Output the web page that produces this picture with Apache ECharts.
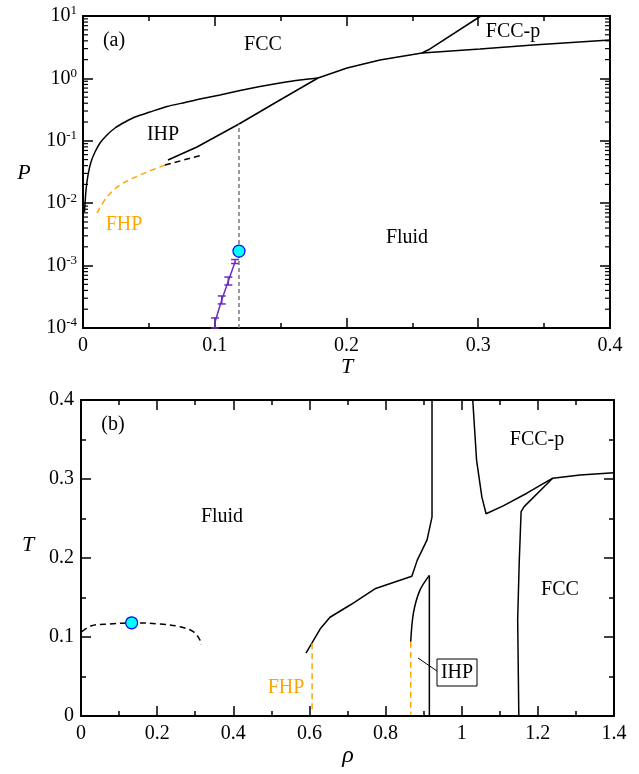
<!DOCTYPE html>
<html lang="en">
<head>
<meta charset="UTF-8">
<title>Phase diagram</title>
<script src="https://cdn.jsdelivr.net/npm/echarts@6/dist/echarts.min.js"></script>
<style>
    html, body { margin: 0; padding: 0; background: #fff; }
    #main { width: 639px; height: 774px; }
</style>
</head>
<body>
<div id="main"></div>
<script>
// ---- panel (a): P vs T ----
var fccIhpT = [0.00114, 0.00228, 0.0038, 0.00607, 0.00911, 0.0129, 0.0182, 0.0243, 0.0319, 0.0395, 0.0509, 0.0638, 0.0774, 0.0888, 0.1040, 0.1192, 0.1343, 0.1495, 0.1647, 0.1784];
var fccIhpP = [0.00723, 0.01627, 0.0283, 0.0457, 0.0661, 0.0922, 0.1238, 0.1604, 0.2001, 0.2406, 0.2893, 0.3545, 0.411, 0.4676, 0.542, 0.64, 0.741, 0.843, 0.9428, 1.015];

var ihpFluidT = [0.0645, 0.0865, 0.1184, 0.1495, 0.1784];
var ihpFluidP = [0.0492, 0.0796, 0.186, 0.451, 1.015];

var fluidFccT = [0.1784, 0.2004, 0.2254, 0.2573, 0.3013, 0.3416, 0.4];
var fluidFccP = [1.015, 1.468, 1.97, 2.55, 2.96, 3.43, 4.12];

var fccFccpT = [0.2573, 0.2634, 0.302];
var fccFccpP = [2.55, 2.96, 10];

var fhpT = [0.0106, 0.0182, 0.0281, 0.0433, 0.0622];
var fhpP = [0.00697, 0.01256, 0.0196, 0.0283, 0.0409];

var metaT = [0.0622, 0.0903];
var metaP = [0.0409, 0.0591];

var critT = 0.1184;
var critP = 0.00171;
var critLineP = [0.0001, 0.186];

var gasT = [0.1002, 0.1053, 0.1103, 0.1154];
var gasP = [0.000125, 0.000281, 0.000566, 0.00114];
var gasLo = [0.0001, 0.000243, 0.000489, 0.00108];
var gasHi = [0.000145, 0.000326, 0.000656, 0.00125];

// ---- panel (b): T vs rho ----
var fluidRho = [0.591, 0.628, 0.654, 0.707, 0.772, 0.869, 0.883, 0.909, 0.922, 0.922];
var fluidTb = [0.0797, 0.110, 0.125, 0.1405, 0.161, 0.177, 0.197, 0.223, 0.252, 0.40];

var ihpRho = [0.866, 0.873, 0.890, 0.915];
var ihpTb = [0.094, 0.130, 0.159, 0.178];
var ihpWallRho = [0.915, 0.915];
var ihpWallT = [0.178, 0];

var fccpRho = [1.029, 1.039, 1.053, 1.064, 1.109, 1.171, 1.239, 1.311, 1.4];
var fccpTb = [0.40, 0.324, 0.277, 0.256, 0.266, 0.282, 0.301, 0.305, 0.308];

var fccRho = [1.150, 1.147, 1.151, 1.156, 1.164, 1.239];
var fccTb = [0, 0.1215, 0.194, 0.2586, 0.265, 0.301];

var coexRho = [0.002, 0.028, 0.076, 0.133, 0.2075, 0.26, 0.295, 0.3126, 0.315];
var coexTb = [0.1067, 0.1143, 0.1165, 0.118, 0.1165, 0.113, 0.1067, 0.0962, 0.09];

var fhpVertRho = [0.607, 0.607];
var fhpVertT = [0.092, 0.004];
var ihpVertRho = [0.866, 0.866];
var ihpVertT = [0.094, 0.002];

var critRho = 0.133;
var critTb = 0.118;

var logMinor = [];
for (var d = -4; d < 1; d++) {
    for (var k = 2; k <= 9; k++) logMinor.push(k * Math.pow(10, d));
}

function zip(xs, ys) {
    return xs.map(function (x, i) { return [x, ys[i]]; });
}

var serif = '"Liberation Serif", "DejaVu Serif", serif';
var orange = '#ffa500';
var purple = '#6a2fc0';

function line(name, xs, ys, gi, color, type, width, smooth) {
    return {
        name: name, type: 'line', xAxisIndex: gi * 2, yAxisIndex: gi * 2,
        data: zip(xs, ys), symbol: 'none', silent: true, smooth: smooth || false,
        lineStyle: { color: color || '#000', width: width || 1.5, type: type || 'solid' }
    };
}

function xAx(gi, max, interval, pos, showLabel) {
    return {
        type: 'value', gridIndex: gi, min: 0, max: max, interval: interval, position: pos,
        axisLine: { show: true, onZero: false, lineStyle: { color: '#000', width: 2 } },
        axisTick: { show: true, inside: true, length: 10, lineStyle: { color: '#000', width: 1.5 } },
        minorTick: { show: true, splitNumber: 2, length: 5, lineStyle: { color: '#000', width: 1.5 } },
        axisLabel: { show: showLabel, fontFamily: serif, fontSize: 20, color: '#000', margin: 8 },
        splitLine: { show: false }
    };
}

function yLin(gi, pos, showLabel) {
    return {
        type: 'value', gridIndex: gi, min: 0, max: 0.4, interval: 0.1, position: pos,
        axisLine: { show: true, onZero: false, lineStyle: { color: '#000', width: 2 } },
        axisTick: { show: true, inside: true, length: 10, lineStyle: { color: '#000', width: 1.5 } },
        minorTick: { show: true, splitNumber: 2, length: 5, lineStyle: { color: '#000', width: 1.5 } },
        axisLabel: { show: showLabel, fontFamily: serif, fontSize: 20, color: '#000', margin: 7 },
        splitLine: { show: false }
    };
}

function yLog(pos, showLabel) {
    return {
        type: 'log', gridIndex: 0, min: 1e-4, max: 10, logBase: 10, position: pos,
        axisLine: { show: true, onZero: false, lineStyle: { color: '#000', width: 2 } },
        axisTick: { show: true, inside: true, length: 10, lineStyle: { color: '#000', width: 1.5 } },
        axisLabel: {
            show: showLabel, margin: 6, color: '#000',
            formatter: function (v) {
                var e = Math.round(Math.log10(v));
                return '{b|10}{s|' + e + '}';
            },
            rich: {
                b: { fontFamily: serif, fontSize: 20, color: '#000' },
                s: { fontFamily: serif, fontSize: 13, color: '#000', verticalAlign: 'top', padding: [0, 0, 10, 0] }
            }
        },
        splitLine: { show: false }
    };
}

var myChart = echarts.init(document.getElementById('main'));

var critStyle = { color: '#00ffff', borderColor: '#0000ff', borderWidth: 1.2, opacity: 1 };

var option = {
    animation: false,
    backgroundColor: '#fff',
    grid: [
        { left: 83, top: 16, width: 527, height: 312 },
        { left: 81, top: 400, width: 533, height: 316 }
    ],
    xAxis: [
        xAx(0, 0.4, 0.1, 'bottom', true),
        xAx(0, 0.4, 0.1, 'top', false),
        xAx(1, 1.4, 0.2, 'bottom', true),
        xAx(1, 1.4, 0.2, 'top', false)
    ],
    yAxis: [
        yLog('left', true),
        yLog('right', false),
        yLin(1, 'left', true),
        yLin(1, 'right', false)
    ],
    series: [
        // log minor ticks on both sides of panel (a)
        {
            type: 'custom', xAxisIndex: 0, yAxisIndex: 0, silent: true,
            data: logMinor.map(function (v) { return [0, v]; }),
            renderItem: function (params, api) {
                var l = api.coord([0, api.value(1)]);
                var r = api.coord([0.4, api.value(1)]);
                var st = { stroke: '#000', lineWidth: 1.2 };
                return {
                    type: 'group', children: [
                        { type: 'line', shape: { x1: l[0], y1: l[1], x2: l[0] + 5, y2: l[1] }, style: st },
                        { type: 'line', shape: { x1: r[0], y1: r[1], x2: r[0] - 5, y2: r[1] }, style: st }
                    ]
                };
            }
        },
        line('FCC-IHP', fccIhpT, fccIhpP, 0, '#000', 'solid', 1.5, 0.2),
        line('IHP-Fluid', ihpFluidT, ihpFluidP, 0),
        line('Fluid-FCC', fluidFccT, fluidFccP, 0),
        line('FCC-FCCp', fccFccpT, fccFccpP, 0),
        line('FHP', fhpT, fhpP, 0, orange, [6, 4], 1.5, 0.35),
        line('meta', metaT, metaP, 0, '#000', [6, 4]),
        line('Tc', [critT, critT], critLineP, 0, '#777', [4, 3], 1.5),
        line('gas-liquid', gasT, gasP, 0, purple, 'solid', 1.5),
        {
            type: 'custom', xAxisIndex: 0, yAxisIndex: 0, silent: true,
            data: gasT.map(function (t, i) { return [t, gasLo[i], gasHi[i]]; }),
            renderItem: function (params, api) {
                var lo = api.coord([api.value(0), api.value(1)]);
                var hi = api.coord([api.value(0), api.value(2)]);
                var st = { stroke: purple, lineWidth: 1.5 };
                return {
                    type: 'group', children: [
                        { type: 'line', shape: { x1: lo[0], y1: lo[1], x2: hi[0], y2: hi[1] }, style: st },
                        { type: 'line', shape: { x1: lo[0] - 4, y1: lo[1], x2: lo[0] + 4, y2: lo[1] }, style: st },
                        { type: 'line', shape: { x1: hi[0] - 4, y1: hi[1], x2: hi[0] + 4, y2: hi[1] }, style: st }
                    ]
                };
            }
        },
        {
            type: 'scatter', xAxisIndex: 0, yAxisIndex: 0, silent: true,
            data: [[critT, critP]], symbol: 'circle', symbolSize: 12,
            itemStyle: critStyle, z: 5
        },
        // panel (b)
        line('fluid', fluidRho, fluidTb, 1),
        line('ihp', ihpRho, ihpTb, 1, '#000', 'solid', 1.5, 0.3),
        line('ihpWall', ihpWallRho, ihpWallT, 1),
        line('fccp', fccpRho, fccpTb, 1),
        line('fcc', fccRho, fccTb, 1),
        line('coex', coexRho, coexTb, 1, '#000', [6, 4], 1.5, 0.35),
        line('fhpV', fhpVertRho, fhpVertT, 1, orange, [6, 4]),
        line('ihpV', ihpVertRho, ihpVertT, 1, orange, [6, 4]),
        {
            type: 'scatter', xAxisIndex: 2, yAxisIndex: 2, silent: true,
            data: [[critRho, critTb]], symbol: 'circle', symbolSize: 12,
            itemStyle: critStyle, z: 5
        }
    ],
    graphic: [
        { type: 'text', x: 114, y: 41, style: { text: '(a)', font: '20px ' + serif, fill: '#000', textAlign: 'center', textVerticalAlign: 'middle' } },
        { type: 'text', x: 263, y: 45, style: { text: 'FCC', font: '20px ' + serif, fill: '#000', textAlign: 'center', textVerticalAlign: 'middle' } },
        { type: 'text', x: 513, y: 32, style: { text: 'FCC-p', font: '20px ' + serif, fill: '#000', textAlign: 'center', textVerticalAlign: 'middle' } },
        { type: 'text', x: 163, y: 135, style: { text: 'IHP', font: '20px ' + serif, fill: '#000', textAlign: 'center', textVerticalAlign: 'middle' } },
        { type: 'text', x: 407, y: 238, style: { text: 'Fluid', font: '20px ' + serif, fill: '#000', textAlign: 'center', textVerticalAlign: 'middle' } },
        { type: 'text', x: 124, y: 225, style: { text: 'FHP', font: '20px ' + serif, fill: orange, textAlign: 'center', textVerticalAlign: 'middle' } },
        { type: 'text', x: 24, y: 173, style: { text: 'P', font: 'italic 22px ' + serif, fill: '#000', textAlign: 'center', textVerticalAlign: 'middle' } },
        { type: 'text', x: 347, y: 367, style: { text: 'T', font: 'italic 22px ' + serif, fill: '#000', textAlign: 'center', textVerticalAlign: 'middle' } },

        { type: 'text', x: 113, y: 425, style: { text: '(b)', font: '20px ' + serif, fill: '#000', textAlign: 'center', textVerticalAlign: 'middle' } },
        { type: 'text', x: 222, y: 517, style: { text: 'Fluid', font: '20px ' + serif, fill: '#000', textAlign: 'center', textVerticalAlign: 'middle' } },
        { type: 'text', x: 537, y: 440, style: { text: 'FCC-p', font: '20px ' + serif, fill: '#000', textAlign: 'center', textVerticalAlign: 'middle' } },
        { type: 'text', x: 560, y: 590, style: { text: 'FCC', font: '20px ' + serif, fill: '#000', textAlign: 'center', textVerticalAlign: 'middle' } },
        { type: 'text', x: 286, y: 688, style: { text: 'FHP', font: '20px ' + serif, fill: orange, textAlign: 'center', textVerticalAlign: 'middle' } },
        { type: 'line', shape: { x1: 418, y1: 658, x2: 437, y2: 671 }, style: { stroke: '#000', lineWidth: 1 } },
        { type: 'rect', shape: { x: 437, y: 659, width: 40, height: 27 }, style: { fill: '#fff', stroke: '#000', lineWidth: 1 } },
        { type: 'text', x: 457, y: 673, style: { text: 'IHP', font: '20px ' + serif, fill: '#000', textAlign: 'center', textVerticalAlign: 'middle' } },
        { type: 'text', x: 28, y: 545, style: { text: 'T', font: 'italic 22px ' + serif, fill: '#000', textAlign: 'center', textVerticalAlign: 'middle' } },
        { type: 'text', x: 348, y: 756, style: { text: 'ρ', font: 'italic 24px ' + serif, fill: '#000', textAlign: 'center', textVerticalAlign: 'middle' } }
    ]
};

myChart.setOption(option);
</script>
</body>
</html>
